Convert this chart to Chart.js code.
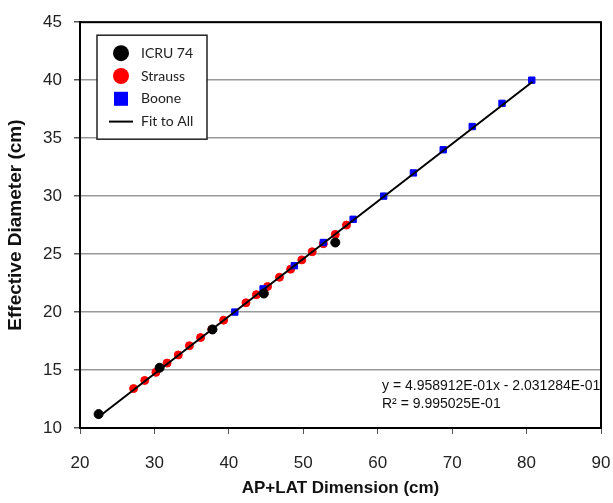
<!DOCTYPE html>
<html>
<head>
<meta charset="utf-8">
<script src="https://cdn.jsdelivr.net/npm/chart.js@4.4.0/dist/chart.umd.min.js"></script>
<style>
body { margin: 0; background: #fff; }
#wrap { width: 613px; height: 503px; position: relative; }
</style>
</head>
<body>
<div id="wrap"><canvas id="myChart" width="613" height="503"></canvas></div>
<script>
var icruX = [22.5, 30.7, 37.8, 44.7, 54.3];
var icruY = [11.2, 15.2, 18.5, 21.6, 26.0];

var straussX = [27.2, 28.7, 30.2, 31.7, 33.2, 34.7, 36.2, 37.7, 39.3, 42.3, 43.7, 45.2, 46.8, 48.3, 49.8, 51.2, 52.7, 54.3, 55.8];
var straussY = [13.4, 14.1, 14.8, 15.6, 16.3, 17.1, 17.8, 18.5, 19.3, 20.8, 21.5, 22.2, 23.0, 23.7, 24.5, 25.2, 25.9, 26.7, 27.5];

var booneX = [40.8, 44.6, 48.8, 52.7, 56.7, 60.8, 64.8, 68.8, 72.7, 76.7, 80.7];
var booneY = [20, 22, 24, 26, 28, 30, 32, 34, 36, 38, 40];

var fitX = [22.4, 80.8];
var fitY = [10.90, 39.86];

var xTicks = [20, 30, 40, 50, 60, 70, 80, 90];
var yTicks = [10, 15, 20, 25, 30, 35, 40, 45];

var eqLines = ["y = 4.958912E-01x - 2.031284E-01", "R\u00B2 = 9.995025E-01"];

function pts(xs, ys) {
  return xs.map(function (x, i) { return {x: x, y: ys[i]}; });
}

// legend box inside the plot, frame and equation text
var extras = {
  id: 'extras',
  afterDraw: function (chart) {
    var ctx = chart.ctx;
    var a = chart.chartArea;
    ctx.save();
    ctx.strokeStyle = '#000';
    ctx.lineWidth = 2;
    ctx.strokeRect(a.left, a.top, a.right - a.left, a.bottom - a.top);

    var bx = a.left + 17, by = a.top + 13, bw = 110, bh = 104;
    ctx.fillStyle = '#fff';
    ctx.fillRect(bx, by, bw, bh);
    ctx.lineWidth = 1.5;
    ctx.strokeStyle = '#222';
    ctx.strokeRect(bx, by, bw, bh);

    ctx.font = '14px Lato, "Open Sans", sans-serif';
    ctx.textBaseline = 'middle';
    var ds = chart.data.datasets;
    for (var i = 0; i < ds.length; i++) {
      var cy = by + 18 + i * 22.8;
      var cx = bx + 24;
      if (ds[i].showLine) {
        ctx.strokeStyle = '#000';
        ctx.lineWidth = 2;
        ctx.beginPath();
        ctx.moveTo(cx - 12, cy); ctx.lineTo(cx + 12, cy);
        ctx.stroke();
      } else if (ds[i].pointStyle === 'rect') {
        ctx.fillStyle = ds[i].backgroundColor;
        ctx.fillRect(cx - 7, cy - 7, 14, 14);
      } else {
        ctx.fillStyle = ds[i].backgroundColor;
        ctx.beginPath();
        ctx.arc(cx, cy, 8, 0, Math.PI * 2);
        ctx.fill();
      }
      ctx.fillStyle = '#222';
      ctx.fillText(ds[i].label, bx + 44, cy);
    }

    ctx.font = '14px "Liberation Sans", Arial, sans-serif';
    ctx.fillStyle = '#111';
    ctx.textBaseline = 'alphabetic';
    ctx.fillText(eqLines[0], a.right - 219, a.bottom - 38);
    ctx.fillText(eqLines[1], a.right - 219, a.bottom - 20);
    ctx.restore();
  }
};

new Chart("myChart", {
  type: "scatter",
  data: {
    datasets: [
      {label: "ICRU 74", data: pts(icruX, icruY), backgroundColor: "#000", borderColor: "#000",
       pointRadius: 4.5, pointStyle: 'circle', order: 1},
      {label: "Strauss", data: pts(straussX, straussY), backgroundColor: "#f00", borderColor: "#f00",
       pointRadius: 4, pointStyle: 'circle', order: 2},
      {label: "Boone", data: pts(booneX, booneY), backgroundColor: "#00f", borderColor: "#00f",
       pointRadius: 4.5, pointStyle: 'rect', order: 1},
      {label: "Fit to All", data: pts(fitX, fitY), showLine: true, borderColor: "#000", borderWidth: 2,
       pointRadius: 0, order: 0}
    ]
  },
  options: {
    responsive: false,
    animation: false,
    layout: {padding: {top: 12, right: 12, left: 0, bottom: 0}},
    plugins: {legend: {display: false}, tooltip: {enabled: false}},
    scales: {
      x: {
        type: 'linear', min: 20, max: 90,
        afterBuildTicks: function (s) { s.ticks = xTicks.map(function (v) { return {value: v}; }); },
        grid: {drawOnChartArea: false, tickLength: 6, tickColor: '#555'},
        border: {color: '#000', width: 2},
        ticks: {padding: 19, color: '#222', font: {family: '"Liberation Sans", Arial', size: 17}},
        title: {display: true, text: 'AP+LAT Dimension (cm)', color: '#111', padding: {top: 6},
                font: {family: '"Liberation Sans", Arial', size: 17, weight: 'bold'}},
        afterFit: function (s) { s.height = 75; s.paddingRight = 0; s.paddingLeft = 0; }
      },
      y: {
        type: 'linear', min: 10, max: 45,
        afterBuildTicks: function (s) { s.ticks = yTicks.map(function (v) { return {value: v}; }); },
        grid: {color: '#999', lineWidth: 1.5, tickLength: 6, tickColor: '#555'},
        border: {color: '#000', width: 2},
        ticks: {padding: 12, color: '#222', font: {family: '"Liberation Sans", Arial', size: 17}},
        title: {display: true, text: 'Effective Diameter (cm)', color: '#111', padding: {bottom: 2},
                font: {family: '"Liberation Sans", Arial', size: 19, weight: 'bold'}},
        afterFit: function (s) { s.width = 80; }
      }
    }
  },
  plugins: [extras]
});
</script>
</body>
</html>
